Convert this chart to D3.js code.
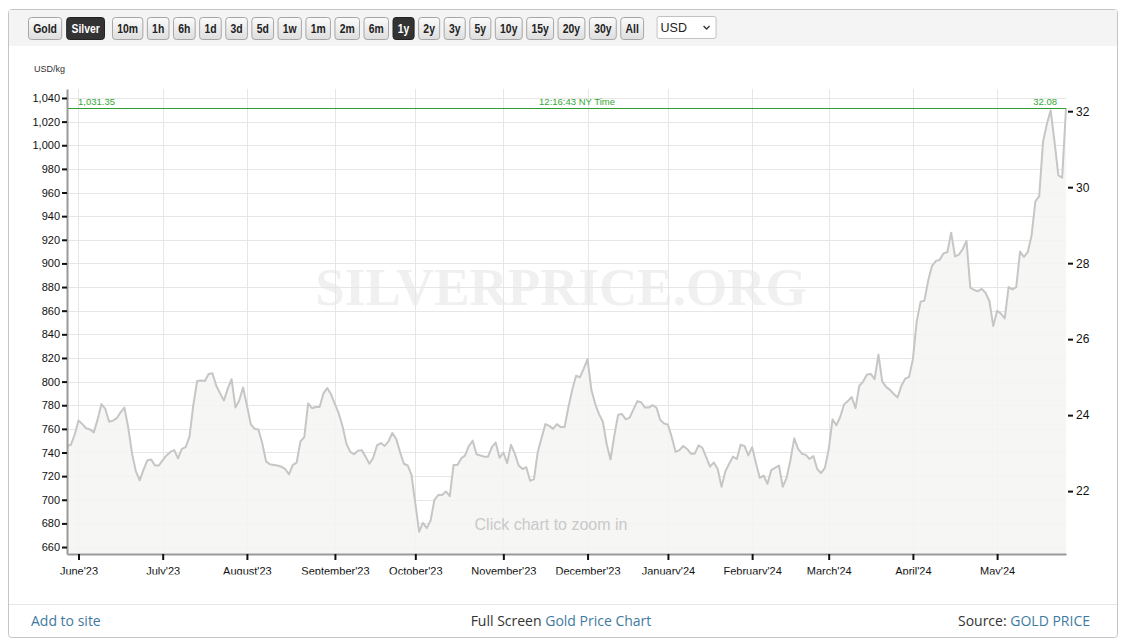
<!DOCTYPE html>
<html><head><meta charset="utf-8">
<script src="https://cdn.jsdelivr.net/npm/d3@7"></script>
<style>
body{margin:0;background:#fff;}
svg{display:block;font-family:"Liberation Sans",Arial,sans-serif;}
</style></head><body>
<svg id="c" width="1125" height="643"></svg>
<script>
// ---- data (USD per kg, one value per trading day, late May 2023 -> 28 May 2024) ----
const priceUsdKg = [
745.5,746.5,755,767,764,760.5,759.5,757,768,781,777,766,767,769,774,778,761,739,724,716.5,
725.5,733.5,734,729,729,733.5,737.5,740.5,742,735,743,744.5,753.5,780,800.5,801,800.5,806.5,807,796.5,
790,784,794,802,778,784,795,780,764,760,759.5,748,732.5,730,729.5,729,728,726,721.5,729.5,
731.5,749.5,753,781.5,777.5,778.5,778.5,790,794.5,789,781,773,762,747.5,740.5,738.5,741.5,742,736.5,730.5,
735.5,746,748,745.5,749.5,756.5,751.5,740.5,730.5,729,721,697,673,680.5,676,682.5,700,704,704,707,
703,729.5,729.5,735,737.5,745.5,750,738.5,737.5,736.5,736.5,744.5,748.5,735.5,740,731,746.5,739,729,726,
727.5,716,717.5,740.5,752.5,764,762.5,760,764,761.5,761.5,778.5,793,805,803.5,811,819,793,781,772.5,
766,747,734,754.5,772,772.5,768,769.5,776.5,783.5,782.5,778,778,780,778,767.5,764.5,763.5,753,740.5,
742,745.5,743,739,739,746,744,736,728,731.5,726,711,724,730.5,736.5,734.5,746.5,745.5,737.5,744.5,
731,718.5,720.5,713.5,725,727,729,711,718.5,733.5,752,743,739,738,734.5,737,726,722.5,727,742.5,
768,763,770,780.5,783.5,787,777.5,796.5,800,806,806.5,802,823,800,795.5,793,789.5,786.5,796.5,802.5,
804,819,851,867.5,868.5,885.5,898,902,903,908.5,909.5,926,906,907.5,912,919,879.5,877.5,876.5,878.5,
875,868,847,860,857.5,853.5,880,878,880,910,905.5,909.5,923.5,952.5,957,1003,1018,1029.5,1003,974.5,
972.5,1031.35
];
const monthTickIndex = [3,25,47,70,91,114,136,157,179,199,221,243];
const monthLabels = ["June'23","July'23","August'23","September'23","October'23","November'23",
  "December'23","January'24","February'24","March'24","April'24","May'24"];
const leftTickValues = [660,680,700,720,740,760,780,800,820,840,860,880,900,920,940,960,980,1000,1020,1040];
const rightTickValues = [22,24,26,28,30,32];
const currentPrice = 1031.35;
const currentPriceOz = 32.08;
const nyTime = "12:16:43 NY Time";
const rangeButtons = ["Gold","Silver","10m","1h","6h","1d","3d","5d","1w","1m","2m","6m","1y","2y","3y","5y","10y","15y","20y","30y","All"];
const activeButtons = ["Silver","1y"];
const currency = "USD";
const unitLabel = "USD/kg";
const OZ_PER_KG = 32.1507;

// ---- layout ----
const svg = d3.select("#c");
const defs = svg.append("defs");
const grad = defs.append("linearGradient").attr("id","btn").attr("x1",0).attr("y1",0).attr("x2",0).attr("y2",1);
grad.append("stop").attr("offset","0%").attr("stop-color","#fbfbfb");
grad.append("stop").attr("offset","100%").attr("stop-color","#dedede");
const labClip = defs.append("clipPath").attr("id","xlabL").attr("clipPathUnits","userSpaceOnUse");
labClip.append("rect").attr("x",-200).attr("y",0).attr("width",400).attr("height",20.5);

// panel
svg.append("rect").attr("x",8.5).attr("y",9.5).attr("width",1109).attr("height",628)
  .attr("rx",3).attr("fill","#fff").attr("stroke","#c4c4c4");
svg.append("rect").attr("x",9).attr("y",10).attr("width",1108).attr("height",36).attr("fill","#f4f4f4");
svg.append("line").attr("x1",9).attr("x2",1117).attr("y1",604.5).attr("y2",604.5).attr("stroke","#e6e6e6");

// toolbar buttons (condensed bold text)
const SQ = 0.8;
const tb = svg.append("g").attr("font-weight","bold").attr("font-size",13);
let bx = 28;
rangeButtons.forEach((b,i)=>{
  const g = tb.append("g");
  const t = g.append("text").text(b).attr("text-anchor","middle");
  const w = t.node().getComputedTextLength()*SQ + 9.5;
  const active = activeButtons.includes(b);
  g.insert("rect","text").attr("x",bx+0.5).attr("y",17.5).attr("width",w).attr("height",22).attr("rx",3)
    .attr("fill",active?"#333":"url(#btn)").attr("stroke",active?"#222":"#a6a6a6");
  t.attr("transform",`translate(${bx+0.5+w/2},33) scale(${SQ},1)`).attr("fill",active?"#fff":"#222");
  bx += w + (b==="Silver"?8:(i===0?5:4.5));
});
// currency select
const selX = bx + 9;
svg.append("rect").attr("x",selX+0.5).attr("y",16.5).attr("width",59).attr("height",22).attr("rx",2)
  .attr("fill","#fff").attr("stroke","#c2c2c2");
svg.append("text").text(currency).attr("x",selX+4).attr("y",31.5).attr("font-size",12.5).attr("fill","#222");
svg.append("path").attr("d",`M${selX+47},26 l3,3 l3,-3`).attr("fill","none").attr("stroke","#333").attr("stroke-width",1.3);

// ---- scales ----
const L = 67, R = 1066, T = 89, B = 554;
const x = d3.scaleLinear().domain([0, priceUsdKg.length-1]).range([L, R]);
const y = d3.scaleLinear().domain([654.1, 1047.6]).range([B, T]);
const yOz = d3.scaleLinear().domain(y.domain().map(v=>v/OZ_PER_KG)).range([B, T]);

// watermark
svg.append("text").text("SILVERPRICE.ORG").attr("x",561).attr("y",305).attr("text-anchor","middle")
  .attr("font-family","'Liberation Serif','Times New Roman',serif").attr("font-weight","bold")
  .attr("font-size",53).attr("fill","#f0f0f0");

// grid
const grid = svg.append("g").attr("stroke","#e6e6e6").attr("stroke-width",1);
grid.selectAll("line.h").data(leftTickValues).join("line").attr("class","h")
  .attr("x1",L).attr("x2",R).attr("y1",d=>Math.round(y(d))+0.5).attr("y2",d=>Math.round(y(d))+0.5);
grid.selectAll("line.v").data(monthTickIndex).join("line").attr("class","v")
  .attr("y1",T).attr("y2",B).attr("x1",d=>Math.round(x(d))+0.5).attr("x2",d=>Math.round(x(d))+0.5);

// area + line
const area = d3.area().x((d,i)=>x(i)).y0(B).y1(d=>y(d));
svg.append("path").datum(priceUsdKg).attr("d",area).attr("fill","#f5f5f3").attr("fill-opacity",0.85);
const line = d3.line().x((d,i)=>x(i)).y(d=>y(d));
svg.append("path").datum(priceUsdKg).attr("d",line).attr("fill","none")
  .attr("stroke","#c6c6c6").attr("stroke-width",2).attr("stroke-linejoin","round");

// current price line
const cy = Math.round(y(currentPrice))+0.5;
svg.append("line").attr("x1",L).attr("x2",R).attr("y1",cy).attr("y2",cy).attr("stroke","#2f9e2f").attr("stroke-width",1);
const gl = svg.append("g").attr("font-size",9.5).attr("fill","#34a834");
gl.append("text").text(d3.format(",.2f")(currentPrice)).attr("x",78).attr("y",cy-3.5);
gl.append("text").text(nyTime).attr("x",577).attr("y",cy-3.5).attr("text-anchor","middle");
gl.append("text").text(d3.format(".2f")(currentPriceOz)).attr("x",1057).attr("y",cy-3.5).attr("text-anchor","end");

// axes
const ax = svg.append("g").attr("transform",`translate(${L},0)`)
  .call(d3.axisLeft(y).tickValues(leftTickValues).tickFormat(d3.format(",")).tickSize(5).tickSizeOuter(0).tickPadding(2));
const bx2 = svg.append("g").attr("transform",`translate(0,${B})`)
  .call(d3.axisBottom(x).tickValues(monthTickIndex).tickFormat((d,i)=>monthLabels[i]).tickSize(6).tickSizeOuter(0).tickPadding(7));
bx2.selectAll(".tick text").attr("clip-path","url(#xlabL)");
const ar = svg.append("g").attr("transform",`translate(${R+2},0)`)
  .call(d3.axisRight(yOz).tickValues(rightTickValues).tickSize(5).tickPadding(3));
ar.select(".domain").remove();
[ax,bx2,ar].forEach(g=>{
  g.attr("font-family","'Liberation Sans',Arial,sans-serif").attr("font-size",11);
  g.selectAll(".tick line").attr("stroke","#111").attr("stroke-width",2);
  g.selectAll(".tick text").attr("fill","#111");
  g.select(".domain").attr("stroke","#999").attr("stroke-width",2);
});
ar.attr("font-size",12);

// unit label
svg.append("text").text(unitLabel).attr("x",34).attr("y",72).attr("font-size",9).attr("fill","#333");

// hint
svg.append("text").text("Click chart to zoom in").attr("x",551).attr("y",530).attr("text-anchor","middle")
  .attr("font-size",16).attr("fill","#c9c9c9");

// footer
const ft = svg.append("g").attr("font-family","'Open Sans','Liberation Sans',sans-serif").attr("font-size",14);
const link = "#3f7aa0", dark = "#333";
ft.append("text").text("Add to site").attr("x",31).attr("y",626).attr("fill",link);
const mid = ft.append("text").attr("x",561).attr("y",626).attr("text-anchor","middle");
mid.append("tspan").text("Full Screen ").attr("fill",dark);
mid.append("tspan").text("Gold Price Chart").attr("fill",link);
const src = ft.append("text").attr("x",1090).attr("y",626).attr("text-anchor","end");
src.append("tspan").text("Source: ").attr("fill",dark);
src.append("tspan").text("GOLD PRICE").attr("fill",link);
</script>
</body></html>
